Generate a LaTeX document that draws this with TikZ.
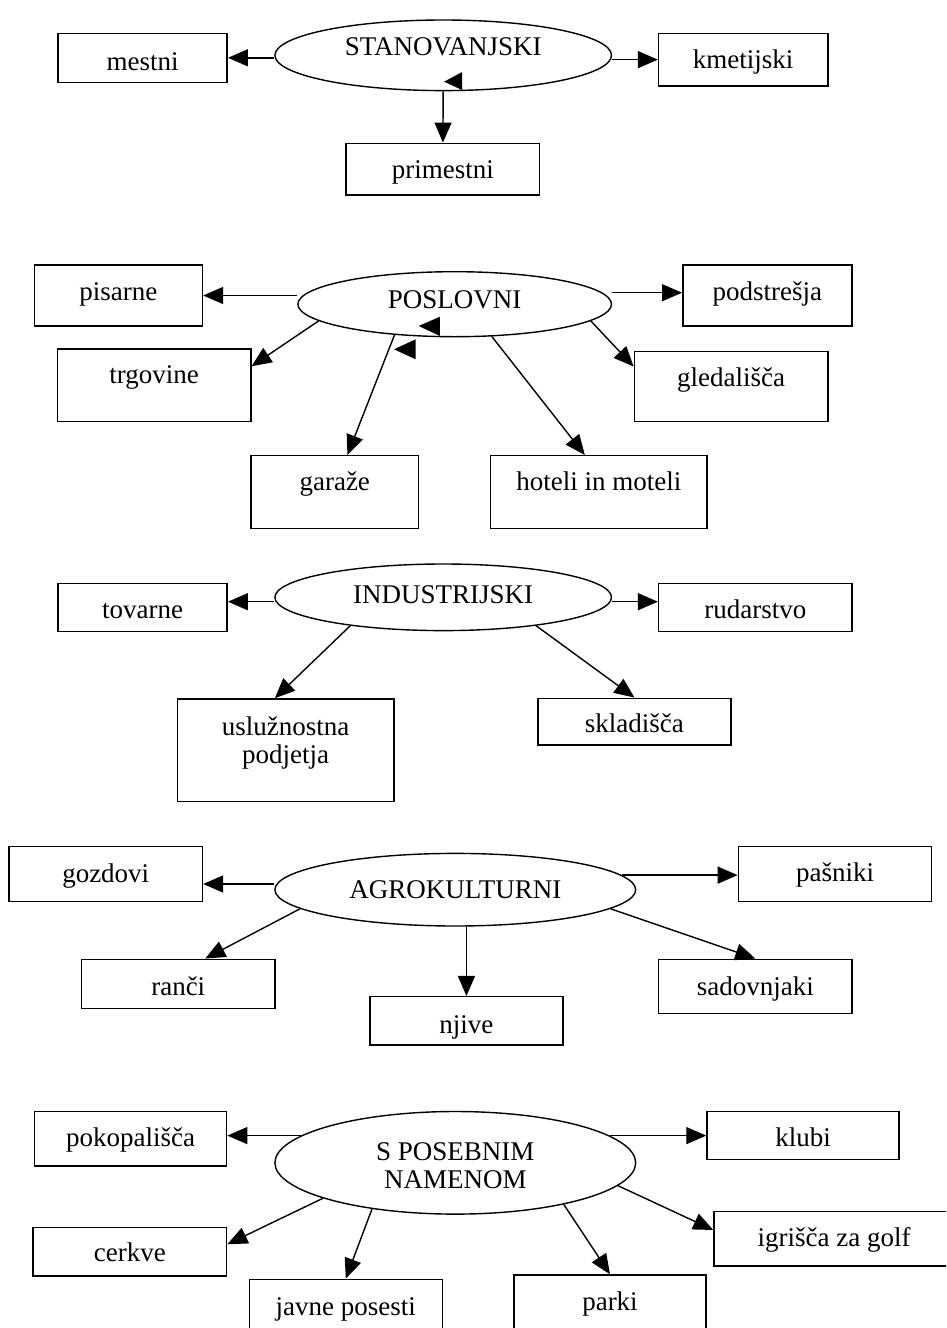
\documentclass[tikz,border=0pt]{standalone}
\usepackage{fontspec}
\setmainfont{Liberation Serif}
\usetikzlibrary{arrows.meta,shapes.geometric}
\tikzset{
  box/.style={draw, rectangle, line width=1.5pt, inner sep=0pt},
  oval/.style={draw, ellipse, line width=1.4pt, inner sep=0pt, align=center},
  arr/.style={line width=1.4pt, -{Triangle[length=20pt,width=17pt]}},
}
\begin{document}
\begin{tikzpicture}[x=1pt,y=-1pt,font=\fontsize{27}{28}\selectfont]
\useasboundingbox (0,0) rectangle (946,1328);
\clip (0,0) rectangle (946,1328);
\fill[white] (0,0) rectangle (946,1328);

% ---------- STANOVANJSKI ----------
\node[oval, minimum width=336.6pt, minimum height=70.6pt, text height=20pt, text depth=20.6pt] (e1) at (443.2,55.3) {STANOVANJSKI};
\node[box, minimum width=169.2pt, text height=36.7pt, text depth=12.3pt] (mestni) at (142.6,57.8) {mestni};
\node[box, minimum width=169.2pt, text height=35pt, text depth=17.7pt] (kmet) at (743.2,59.65) {kmetijski};
\node[box, minimum width=193.4pt, text height=35pt, text depth=16.7pt] (prim) at (442.9,169.15) {primestni};
\draw[arr] (e1.west |- mestni.east) -- (mestni.east);
\draw[arr] (e1.east |- kmet.west) -- (kmet.west);
\draw[arr] (e1.south) -- (prim.north);
\fill (444.1,81.7) -- (462.2,72) -- (462.2,90) -- cycle;

% ---------- POSLOVNI ----------
\node[oval, minimum width=313.6pt, minimum height=65pt, text height=20pt, text depth=12.4pt] (e2) at (454.7,304.2) {POSLOVNI};
\node[box, minimum width=168pt, text height=35pt, text depth=26pt] (pis) at (118.4,295.5) {pisarne};
\node[box, minimum width=169.2pt, text height=35pt, text depth=26pt] (pod) at (767.4,295.5) {podstrešja};
\node[box, minimum width=193.4pt, text height=34.3pt, text depth=38.4pt] (trg) at (154.1,385.35) {trgovine};
\node[box, minimum width=193.4pt, text height=35pt, text depth=35pt] (gled) at (731.1,386.7) {gledališča};
\node[box, minimum width=167.9pt, text height=34.3pt, text depth=38.3pt] (gar) at (334.75,492) {garaže};
\node[box, minimum width=216.4pt, text height=35pt, text depth=37.6pt] (hot) at (598.8,492) {hoteli in moteli};
\draw[arr] (e2.west |- pis.east) -- (pis.east);
\draw[arr] ([yshift=11.5pt]e2.east) -- ([yshift=11.5pt]e2.east -| pod.west);
\draw[arr] (e2.187) -- ([yshift=-18pt]trg.north east);
\draw[arr] (e2.353) -- ([yshift=-15.6pt]gled.north west);
\draw[arr] (e2.207) -- ([xshift=12.7pt]gar.north);
\draw[arr] (e2.319) -- ([xshift=-14pt]hot.north);
\fill (418.7,326) -- (439.9,316.7) -- (439.9,336) -- cycle;
\fill (394,349.3) -- (415.7,339.3) -- (415.7,359.3) -- cycle;

% ---------- INDUSTRIJSKI ----------
\node[oval, minimum width=336.6pt, minimum height=66.6pt, text height=20pt, text depth=8.6pt] (e3) at (443.2,597.3) {INDUSTRIJSKI};
\node[box, minimum width=169.2pt, text height=35pt, text depth=13.4pt] (tov) at (142.6,607.5) {tovarne};
\node[box, minimum width=193.4pt, text height=35pt, text depth=13.4pt] (rud) at (755.3,607.5) {rudarstvo};
\node[box, align=center, minimum width=216.7pt, text height=64.3pt, text depth=38.4pt] (usl) at (285.65,750.35) {uslužnostna\\podjetja};
\node[box, minimum width=193.3pt, text height=34.4pt, text depth=12.3pt] (skl) at (634.45,721.65) {skladišča};
\draw[arr] ([yshift=-4.4pt]e3.west) -- ([yshift=-4.4pt]e3.west -| tov.east);
\draw[arr] ([yshift=-4.4pt]e3.east) -- ([yshift=-4.4pt]e3.east -| rud.west);
\draw[arr] (e3.197) -- ([xshift=-10.8pt]usl.north);
\draw[arr] (e3.343) -- (skl.north);

% ---------- AGROKULTURNI ----------
\node[oval, minimum width=360.8pt, minimum height=72.6pt, text height=20pt, text depth=3.4pt] (e4) at (455.3,889.7) {AGROKULTURNI};
\node[box, minimum width=193.3pt, text height=36pt, text depth=19pt] (goz) at (105.75,874.2) {gozdovi};
\node[box, minimum width=193.3pt, text height=35pt, text depth=20pt] (pas) at (835.05,874.2) {pašniki};
\node[box, minimum width=193.3pt, text height=35.7pt, text depth=13.3pt] (ran) at (178.25,983.8) {ranči};
\node[box, minimum width=193.3pt, text height=36.6pt, text depth=11.7pt] (nji) at (466.45,1020.85) {njive};
\node[box, minimum width=193.4pt, text height=35.7pt, text depth=18.3pt] (sad) at (755.3,986.3) {sadovnjaki};
\draw[arr] ([yshift=5.7pt]e4.west) -- ([yshift=5.7pt]e4.west -| goz.east);
\draw[arr] (e4.5) -- (e4.5 -| pas.west);
\draw[arr] (e4.187) -- ([xshift=27pt]ran.north);
\draw[arr] (e4.south -| nji.north) -- (nji.north);
\draw[arr] (e4.353) -- (sad.north);

% ---------- S POSEBNIM NAMENOM ----------
\node[oval, minimum width=360.8pt, minimum height=102.6pt, text height=60pt, text depth=9.6pt] (e5) at (455.3,1162.8) {S POSEBNIM\\NAMENOM};
\node[box, minimum width=192.2pt, text height=34.3pt, text depth=20pt] (pok) at (130.5,1138.85) {pokopališča};
\node[box, minimum width=192pt, text height=34.3pt, text depth=13.3pt] (klu) at (803,1135.5) {klubi};
\node[box, minimum width=193.4pt, text height=34.4pt, text depth=14.3pt] (cer) at (129.9,1251.65) {cerkve};
\node[box, minimum width=193pt, text height=35.7pt, text depth=30pt] (jav) at (345.8,1312.15) {javne posesti};
\node[box, minimum width=192pt, text height=35pt, text depth=35pt] (par) at (610,1310) {parki};
\node[box, minimum width=240pt, text height=35pt, text depth=19.3pt] (igr) at (834,1238.85) {igrišča za golf};
\draw[arr] (e5.170) -- (e5.170 -| pok.east);
\draw[arr] (e5.10) -- (e5.10 -| klu.west);
\draw[arr] (e5.195) -- ([yshift=-17.7pt]cer.north east);
\draw[arr] (e5.209) -- (jav.north);
\draw[arr] (e5.339) -- (par.north);
\draw[arr] (e5.352) -- ([yshift=-19pt]igr.north west);
\end{tikzpicture}
\end{document}
